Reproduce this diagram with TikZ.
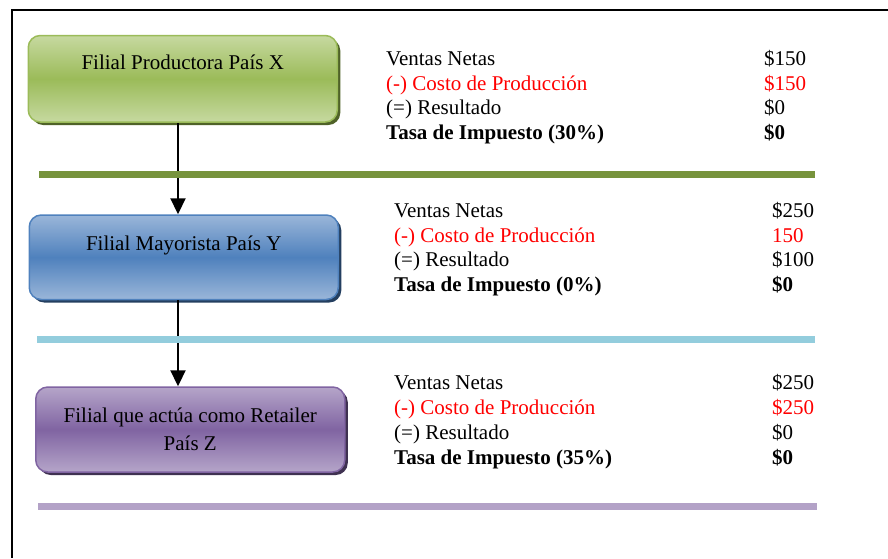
\documentclass[tikz,border=0pt]{standalone}
\usepackage{fontspec}
\setmainfont{Liberation Serif}
\usetikzlibrary{arrows.meta,shadows}
\definecolor{verdeClaro}{HTML}{C6D9A0}
\definecolor{verde}{HTML}{9BBB59}
\definecolor{verdeOsc}{HTML}{4F6228}
\definecolor{verdeLinea}{HTML}{77933C}
\definecolor{azulClaro}{HTML}{9AB6D9}
\definecolor{azul}{HTML}{4F81BD}
\definecolor{azulOsc}{HTML}{243F60}
\definecolor{celeste}{HTML}{93CDDD}
\definecolor{lilaClaro}{HTML}{B5A5C9}
\definecolor{lila}{HTML}{8064A2}
\definecolor{lilaOsc}{HTML}{3F3151}
\definecolor{lilaLinea}{HTML}{B3A2C7}

\begin{document}
\begin{tikzpicture}[x=1pt,y=-1pt,
	every node/.style={font=\fontsize{21}{24.5}\selectfont, inner sep=0pt},
	caja/.style={rectangle, rounded corners=12pt, line width=1.5pt, minimum width=309pt},
	fila/.style={anchor=base west},
	flecha/.style={line width=2.2pt, -{Triangle[width=15pt,length=16pt]}},
	franja/.style={line width=7pt}]
	\useasboundingbox (0,0) rectangle (888,558);
	\draw[line width=2pt] (888,9.5) -| (12,558);%marco
	% cajas
	\node[caja, draw=verde, top color=verdeClaro, bottom color=verdeClaro, middle color=verde,
		drop shadow={shadow xshift=3pt, shadow yshift=-3pt, fill=verdeOsc, opacity=1},
		text height=34pt, text depth=52.5pt] (filialX) at (182.75,78.75) {Filial Productora País X};
	\node[caja, draw=azul, top color=azulClaro, bottom color=azulClaro, middle color=azul,
		drop shadow={shadow xshift=3pt, shadow yshift=-3pt, fill=azulOsc, opacity=1},
		text height=35pt, text depth=49.5pt] (filialY) at (183.75,257.25) {Filial Mayorista País Y};
	\node[caja, draw=lila, top color=lilaClaro, bottom color=lilaClaro, middle color=lila,
		drop shadow={shadow xshift=3pt, shadow yshift=-3pt, fill=lilaOsc, opacity=1},
		minimum height=85pt, align=center, font=\fontsize{21}{28.5}\selectfont] (filialZ) at (190.25,429.5)
		{Filial que actúa como Retailer\\País Z};
	% flechas
	\coordinate (eje) at (178,0);
	\draw[flecha] (filialX.south -| eje) -- (filialY.north -| eje);
	\draw[flecha] (filialY.south -| eje) -- (filialZ.north -| eje);
	% franjas
	\draw[franja, verdeLinea] (39,174) -- (815,174);
	\draw[franja, celeste] (37,339.5) -- (815,339.5);
	\draw[franja, lilaLinea] (38,506.5) -- (817,506.5);
	% pais X
	\node[fila] (ventasX) at (386,65) {Ventas Netas};
	\node[fila, red] (costoX) at (386,90) {(-) Costo de Producción};
	\node[fila] (resX) at (386,114) {(=) Resultado};
	\node[fila, font=\fontsize{21}{24.5}\selectfont\bfseries] (tasaX) at (386,139) {Tasa de Impuesto (30\%)};
	\node[fila] (ventasXv) at (764,65) {\$150};
	\node[fila, red] (costoXv) at (764,90) {\$150};
	\node[fila] (resXv) at (764,114) {\$0};
	\node[fila, font=\fontsize{21}{24.5}\selectfont\bfseries] (tasaXv) at (764,139) {\$0};
	% pais Y
	\node[fila] (ventasY) at (394,217) {Ventas Netas};
	\node[fila, red] (costoY) at (394,242) {(-) Costo de Producción};
	\node[fila] (resY) at (394,266) {(=) Resultado};
	\node[fila, font=\fontsize{21}{24.5}\selectfont\bfseries] (tasaY) at (394,291) {Tasa de Impuesto (0\%)};
	\node[fila] (ventasYv) at (772,217) {\$250};
	\node[fila, red] (costoYv) at (772,242) {150};
	\node[fila] (resYv) at (772,266) {\$100};
	\node[fila, font=\fontsize{21}{24.5}\selectfont\bfseries] (tasaYv) at (772,291) {\$0};
	% pais Z
	\node[fila] (ventasZ) at (394,389.5) {Ventas Netas};
	\node[fila, red] (costoZ) at (394,414.5) {(-) Costo de Producción};
	\node[fila] (resZ) at (394,439) {(=) Resultado};
	\node[fila, font=\fontsize{21}{24.5}\selectfont\bfseries] (tasaZ) at (394,464) {Tasa de Impuesto (35\%)};
	\node[fila] (ventasZv) at (772,389.5) {\$250};
	\node[fila, red] (costoZv) at (772,414.5) {\$250};
	\node[fila] (resZv) at (772,439) {\$0};
	\node[fila, font=\fontsize{21}{24.5}\selectfont\bfseries] (tasaZv) at (772,464) {\$0};
\end{tikzpicture}
\end{document}
